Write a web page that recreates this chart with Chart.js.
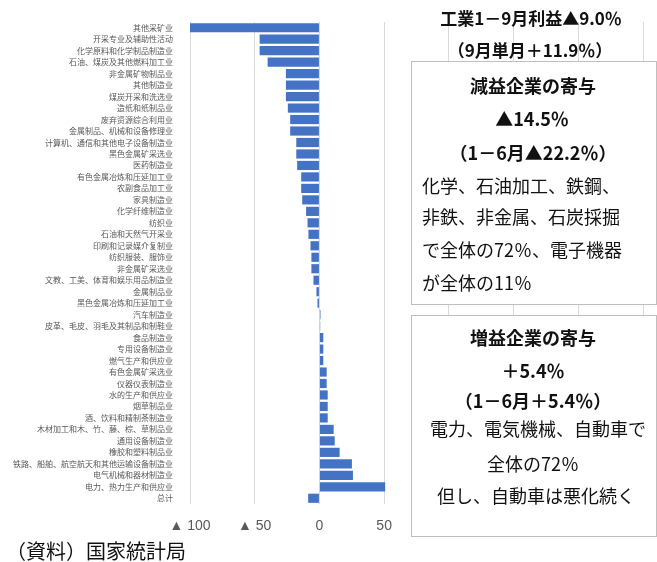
<!DOCTYPE html>
<html lang="ja">
<head>
<meta charset="UTF-8" />
<title>工業利益</title>
<script src="https://cdn.jsdelivr.net/npm/chart.js"></script>
<style>
  html, body { margin: 0; padding: 0; background: #fff; }
  #wrap { position: relative; width: 657px; height: 562px; overflow: hidden; }
  #chart { position: absolute; left: 0; top: 0; }
  .t { position: absolute; font-family: "Noto Sans CJK JP", sans-serif; color: #111; font-size: 18px; line-height: 1; white-space: nowrap; }
  .c { transform: translateX(-50%); }
  .b { font-weight: bold; }
  .box { position: absolute; background: #fff; border: 1px solid #bfbfbf; box-sizing: border-box; }
</style>
</head>
<body>
<div id="wrap">
  <canvas id="chart" width="657" height="562"></canvas>

  <div class="t b c" style="left:531px; top:9px; font-size:17px;">工業1－9月利益▲9.0％</div>
  <div class="t b c" style="left:530px; top:41px; font-size:17px;">（9月単月＋11.9％）</div>

  <div class="box" style="left:411px; top:61px; width:246px; height:244px;"></div>
  <div class="t b c" style="left:533px; top:76px;">減益企業の寄与</div>
  <div class="t b c" style="left:532px; top:109px;">▲14.5％</div>
  <div class="t b c" style="left:533px; top:143px;">（1－6月▲22.2％）</div>
  <div class="t" style="left:422px; top:176px;">化学、石油加工、鉄鋼、</div>
  <div class="t" style="left:422px; top:207px;">非鉄、非金属、石炭採掘</div>
  <div class="t" style="left:422px; top:240px;">で全体の72％、電子機器</div>
  <div class="t" style="left:422px; top:273px;">が全体の11％</div>

  <div class="box" style="left:411px; top:315px; width:246px; height:222px;"></div>
  <div class="t b c" style="left:533px; top:328px;">増益企業の寄与</div>
  <div class="t b c" style="left:533px; top:361px;">＋5.4％</div>
  <div class="t b c" style="left:533px; top:391px;">（1－6月＋5.4％）</div>
  <div class="t c" style="left:538px; top:419px;">電力、電気機械、自動車で</div>
  <div class="t c" style="left:533px; top:454px;">全体の72％</div>
  <div class="t c" style="left:536px; top:486px;">但し、自動車は悪化続く</div>

  <div class="t" style="left:6px; top:541px; font-size:20px;">（資料）国家統計局</div>
</div>

<script>
  // 业种（上から順）
  const categories = [
    "其他采矿业",
    "开采专业及辅助性活动",
    "化学原料和化学制品制造业",
    "石油、煤炭及其他燃料加工业",
    "非金属矿物制品业",
    "其他制造业",
    "煤炭开采和洗选业",
    "造纸和纸制品业",
    "废弃资源综合利用业",
    "金属制品、机械和设备修理业",
    "计算机、通信和其他电子设备制造业",
    "黑色金属矿采选业",
    "医药制造业",
    "有色金属冶炼和压延加工业",
    "农副食品加工业",
    "家具制造业",
    "化学纤维制造业",
    "纺织业",
    "石油和天然气开采业",
    "印刷和记录媒介复制业",
    "纺织服装、服饰业",
    "非金属矿采选业",
    "文教、工美、体育和娱乐用品制造业",
    "金属制品业",
    "黑色金属冶炼和压延加工业",
    "汽车制造业",
    "皮革、毛皮、羽毛及其制品和制鞋业",
    "食品制造业",
    "专用设备制造业",
    "燃气生产和供应业",
    "有色金属矿采选业",
    "仪器仪表制造业",
    "水的生产和供应业",
    "烟草制品业",
    "酒、饮料和精制茶制造业",
    "木材加工和木、竹、藤、棕、草制品业",
    "通用设备制造业",
    "橡胶和塑料制品业",
    "铁路、船舶、航空航天和其他运输设备制造业",
    "电气机械和器材制造业",
    "电力、热力生产和供应业",
    "总计"
  ];

  // 利益伸び率（%）
  const profitGrowth = [
    -100, -46.2, -46.2, -40.0, -25.9, -25.9, -25.9, -24.4, -22.6, -22.6,
    -17.9, -17.9, -17.2, -14.1, -14.1, -13.3, -10.3, -9.2, -8.5, -6.9,
    -6.2, -6.2, -4.6, -2.3, -1.5, 0.8, 0.6, 3.0, 3.0, 3.0,
    5.6, 5.6, 6.4, 6.4, 6.4, 11.0, 11.8, 15.6, 25.1, 25.9,
    50.8, -8.7
  ];

  const xMin = -100;
  const xMax = 250;
  const xStep = 50;

  new Chart(document.getElementById("chart"), {
    type: "bar",
    data: {
      labels: categories,
      datasets: [{
        data: profitGrowth,
        backgroundColor: "#4472C4",
        borderWidth: 0,
        categoryPercentage: 0.8,
        barPercentage: 1.0
      }]
    },
    options: {
      indexAxis: "y",
      responsive: false,
      animation: false,
      layout: { padding: { top: 22, right: 14, left: 0, bottom: 0 } },
      plugins: { legend: { display: false }, tooltip: { enabled: false } },
      scales: {
        x: {
          min: xMin,
          max: xMax,
          ticks: {
            stepSize: xStep,
            padding: 14,
            color: "#595959",
            font: { family: "Liberation Sans", size: 14 },
            callback: (v) => (v < 0 ? "▲ " + (-v) : String(v))
          },
          grid: { color: "#d9d9d9", drawTicks: false },
          border: { display: false },
          afterFit: (s) => {
            s.height = 58;
            s.paddingLeft = 0;
            s.paddingRight = 0;
          }
        },
        y: {
          ticks: {
            autoSkip: false,
            padding: 9,
            color: "#595959",
            font: { family: "Noto Sans CJK SC", size: 8 }
          },
          grid: { display: false },
          border: { display: false },
          afterFit: (s) => { s.width = 190; }
        }
      }
    }
  });
</script>
</body>
</html>
